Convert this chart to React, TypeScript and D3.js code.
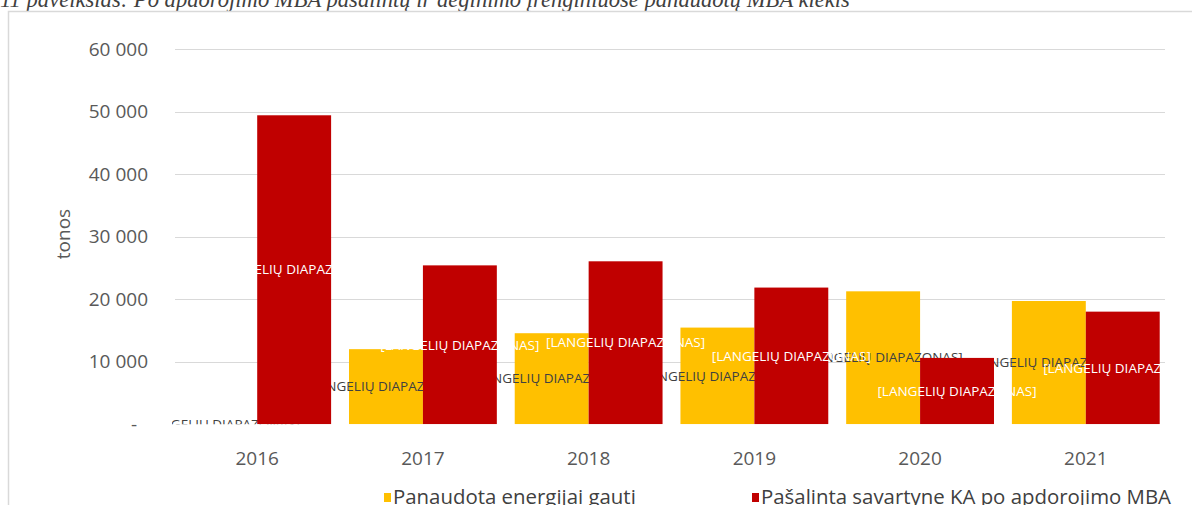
import React, { useRef, useEffect } from 'react';
import * as d3 from 'd3';

// data
const years = ['2016', '2017', '2018', '2019', '2020', '2021'];
const energyUsed = [0, 12000, 14550, 15450, 21250, 19700];
const landfilled = [49400, 25400, 26050, 21850, 10600, 18000];
const seriesNames = ['Panaudota energijai gauti', 'Pašalinta savartyne KA po apdorojimo MBA'];
const seriesColors = ['#FFC000', '#C00000'];
const labelColors = ['#404040', '#FFFFFF'];
const yTicks = [0, 10000, 20000, 30000, 40000, 50000, 60000];
const yTickLabels = ['-', '10 000', '20 000', '30 000', '40 000', '50 000', '60 000'];
const cellLabel = '[LANGELIŲ DIAPAZONAS]';
const yTitle = 'tonos';
const caption = '11 paveikslas: Po apdorojimo MBA pašalintų ir deginimo įrenginiuose panaudotų MBA kiekis';

const FONT = '"Open Sans", "Noto Sans", sans-serif';

const App = () => {
    const ref = useRef<SVGSVGElement>(null);

    useEffect(() => {
        const width = 1192, height = 505;
        const svg = d3.select(ref.current);
        svg.selectAll('*').remove();
        svg.attr('width', width).attr('height', height);

        // caption above the chart (cut off at the top, like the screenshot)
        svg.append('text')
            .attr('x', 0)
            .attr('y', 7)
            .attr('font-family', '"Liberation Serif", serif')
            .attr('font-style', 'italic')
            .attr('font-size', 22.6)
            .attr('fill', '#404040')
            .text(caption);

        // chart frame
        svg.append('rect')
            .attr('x', 8.5).attr('y', 11.5)
            .attr('width', 1300).attr('height', 600)
            .attr('fill', '#fff')
            .attr('stroke', '#D9D9D9')
            .attr('stroke-width', 1.5);

        const x = d3.scaleBand().domain(years).range([175, 1168]).paddingInner(0.108).paddingOuter(0.05);
        const xs = d3.scaleBand().domain(['0', '1']).range([0, x.bandwidth()]);
        const y = d3.scaleLinear().domain([0, 60000]).range([424.2, 49]);

        // gridlines
        svg.append('g')
            .selectAll('line')
            .data(yTicks.filter(d => d > 0))
            .join('line')
            .attr('x1', 175).attr('x2', 1165)
            .attr('y1', d => Math.round(y(d)) + 0.5)
            .attr('y2', d => Math.round(y(d)) + 0.5)
            .attr('stroke', '#D9D9D9');

        // y tick labels
        svg.append('g')
            .selectAll('text')
            .data(yTicks)
            .join('text')
            .attr('x', (d, i) => i === 0 ? 137 : 148)
            .attr('y', d => y(d))
            .attr('dy', '0.35em')
            .attr('text-anchor', 'end')
            .attr('font-family', FONT)
            .attr('font-size', 19)
            .attr('fill', '#595959')
            .text((d, i) => yTickLabels[i]);

        svg.append('text')
            .attr('transform', 'translate(63,234) rotate(-90)')
            .attr('dy', '0.35em')
            .attr('text-anchor', 'middle')
            .attr('font-family', FONT)
            .attr('font-size', 19)
            .attr('fill', '#595959')
            .text(yTitle);

        // x labels
        svg.append('g')
            .selectAll('text')
            .data(years)
            .join('text')
            .attr('x', d => (x(d) as number) + x.bandwidth() / 2)
            .attr('y', 458)
            .attr('dy', '0.35em')
            .attr('text-anchor', 'middle')
            .attr('font-family', FONT)
            .attr('font-size', 19)
            .attr('fill', '#595959')
            .text(d => d);

        // plot area clip for bars and labels
        svg.append('defs')
            .append('clipPath')
            .attr('id', 'plotClip')
            .append('rect')
            .attr('x', 172).attr('y', 11)
            .attr('width', 1000).attr('height', y(0) - 11);

        const plot = svg.append('g').attr('clip-path', 'url(#plotClip)');

        [energyUsed, landfilled].forEach((values, s) => {
            plot.append('g')
                .selectAll('rect')
                .data(values)
                .join('rect')
                .attr('x', (d, i) => (x(years[i]) as number) + (xs(String(s)) as number))
                .attr('y', d => y(d))
                .attr('width', xs.bandwidth())
                .attr('height', d => y(0) - y(d))
                .attr('fill', seriesColors[s]);

            plot.append('g')
                .selectAll('text')
                .data(values)
                .join('text')
                .attr('x', (d, i) => (x(years[i]) as number) + (xs(String(s)) as number) + xs.bandwidth() / 2)
                .attr('y', d => y(d / 2))
                .attr('dy', '0.35em')
                .attr('text-anchor', 'middle')
                .attr('font-family', FONT)
                .attr('font-size', 13.5)
                .attr('fill', labelColors[s])
                .text(cellLabel);
        });

        // legend (cut off at the bottom edge)
        const legendX = [384, 752];
        seriesNames.forEach((name, i) => {
            svg.append('rect')
                .attr('x', legendX[i]).attr('y', 493)
                .attr('width', 7).attr('height', 9)
                .attr('fill', seriesColors[i]);
            svg.append('text')
                .attr('x', legendX[i] + 9)
                .attr('y', 504)
                .attr('font-family', FONT)
                .attr('font-size', 20.4)
                .attr('fill', '#404040')
                .text(name);
        });
    }, []);

    return (
        <svg ref={ref} style={{ position: 'absolute', left: 0, top: 0 }} />
    );
};

export default App;
